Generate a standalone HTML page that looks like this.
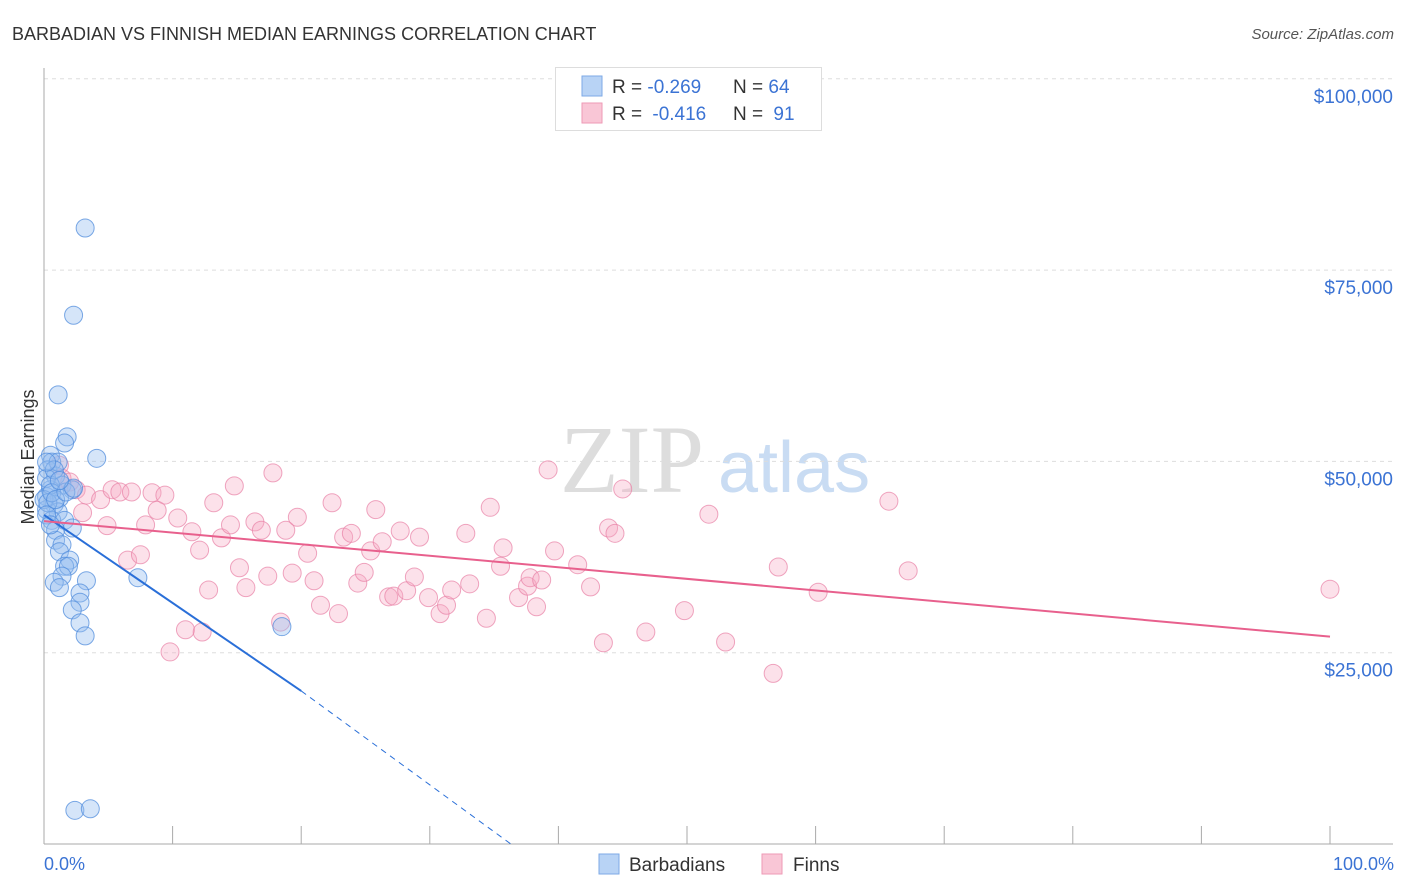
<!DOCTYPE html>
<html><head><meta charset="utf-8"><style>
body{margin:0;background:#fff;font-family:"Liberation Sans",sans-serif;}
svg{display:block}
</style></head><body>
<svg id="chart" width="1406" height="892">
<text x="12" y="40" font-size="18" fill="#333">BARBADIAN VS FINNISH MEDIAN EARNINGS CORRELATION CHART</text>
<text x="1394" y="39" font-size="15" fill="#555" font-style="italic" text-anchor="end">Source: ZipAtlas.com</text>
<text x="560" y="492" font-size="96" fill="#ddd" font-family="Liberation Serif">ZIP</text>
<text x="718" y="492" font-size="72" fill="#c9dcf3">atlas</text>
<g id="grid"></g><g id="axes"></g><g id="pts"></g><g id="lines"></g>
<text transform="translate(34,457) rotate(-90)" font-size="18" fill="#333" text-anchor="middle">Median Earnings</text>
<text x="44" y="870" font-size="18" fill="#3b73d4">0.0%</text>
<text x="1394" y="870" font-size="18" fill="#3b73d4" text-anchor="end">100.0%</text>
<g>
<rect x="555.5" y="67.5" width="266" height="63" fill="#fff" stroke="#ddd"/>
<rect x="582" y="76" width="20" height="20" fill="#b8d3f5" stroke="#7eaae6"/>
<rect x="582" y="103" width="20" height="20" fill="#f9c6d6" stroke="#ee9ab6"/>
<text x="612" y="93" font-size="19" fill="#333">R = <tspan fill="#3b73d4">-0.269</tspan><tspan x="733">N = </tspan><tspan fill="#3b73d4">64</tspan></text>
<text x="612" y="120" font-size="19" fill="#333">R = <tspan fill="#3b73d4" dx="5">-0.416</tspan><tspan x="733">N = </tspan><tspan fill="#3b73d4" dx="5">91</tspan></text>
</g>
<g>
<rect x="599" y="854" width="20" height="20" fill="#b8d3f5" stroke="#7eaae6"/>
<text x="629" y="871" font-size="19" fill="#333">Barbadians</text>
<rect x="762" y="854" width="20" height="20" fill="#f9c6d6" stroke="#ee9ab6"/>
<text x="793" y="871" font-size="19" fill="#333">Finns</text>
</g>
</svg>
<script>
const yTicks=[25000,50000,75000,100000];
const yTickLabels=["$25,000","$50,000","$75,000","$100,000"];
const xTicks=[0,10,20,30,40,50,60,70,80,90,100];
const barbX=[3.2,2.3,1.1,1.8,1.6,4.1,0.5,0.6,0.3,0.9,1.4,2.2,0.5,0.2,1.2,0.8,0.2,1.1,0.6,1.6,2.2,0.9,0.9,1.4,1.2,2.0,1.6,1.9,1.4,3.3,0.8,1.2,7.3,2.8,2.8,2.2,2.8,3.2,18.5,2.4,3.6,0.2,0.5,0,0.3,0.6,0.2,0.5,0.9,1.7,2.3,1.1,0.8,0.2,1.2];
const barbY=[80.5,69.1,58.7,53.2,52.4,50.4,50.8,49.9,48.9,48.1,46.9,46.3,46.3,45.4,45.2,44.4,43.7,43.4,42.3,42.3,41.3,41.0,39.7,39.1,38.2,37.1,36.3,36.3,35.0,34.4,34.2,33.5,34.8,32.8,31.6,30.6,28.9,27.2,28.4,4.4,4.6,47.8,46.9,45,44.6,45.9,43.0,41.7,45.0,46.0,46.5,49.9,48.9,49.9,47.5];
const finnX=[1.2,1.4,2.0,2.5,3.3,4.4,5.3,5.9,6.8,8.4,9.4,3.0,4.9,6.5,7.5,7.9,8.8,9.8,10.4,11.0,11.5,12.1,12.3,12.8,13.2,13.8,14.5,14.8,15.2,15.7,16.4,16.9,17.4,17.8,18.4,18.8,19.3,19.7,20.5,21.0,21.5,22.4,22.9,23.3,23.9,24.4,24.9,25.4,25.8,26.3,26.8,27.2,27.7,28.2,28.8,29.2,29.9,30.8,31.3,31.7,32.8,33.1,34.4,34.7,35.5,35.7,36.9,37.6,37.8,38.3,38.7,39.2,39.7,41.5,42.5,43.5,43.9,44.4,45.0,46.8,49.8,51.7,53.0,56.7,57.1,60.2,65.7,67.2,100];
const finnY=[49.5,47.8,47.3,46.3,45.6,45.0,46.3,46.0,46.0,45.9,45.6,43.3,41.6,37.1,37.8,41.7,43.6,25.1,42.6,28.0,40.8,38.4,27.7,33.2,44.6,40.0,41.7,46.8,36.1,33.5,42.1,41.0,35.0,48.5,29.0,41.0,35.4,42.7,38.0,34.4,31.2,44.6,30.1,40.1,40.6,34.1,35.5,38.3,43.7,39.5,32.3,32.4,40.9,33.1,34.9,40.1,32.2,30.1,31.2,33.2,40.6,34.0,29.5,44.0,36.3,38.7,32.2,33.7,34.8,31.0,34.5,48.9,38.3,36.5,33.6,26.3,41.3,40.6,46.4,27.7,30.5,43.1,26.4,22.3,36.2,32.9,44.8,35.7,33.3];
const barbTrend=[[0,43.0],[20,20.0],[36.3,0]];
const finnTrend=[[0,42.2],[100,27.1]];
const NS="http://www.w3.org/2000/svg";
const sx=v=>44+v*12.86;
const sy=v=>844-v/25000*191.3;
const syk=v=>sy(v*1000);
function mk(tag,attrs,parent){const e=document.createElementNS(NS,tag);for(const k in attrs)e.setAttribute(k,attrs[k]);parent.appendChild(e);return e;}
const grid=document.getElementById('grid'),axes=document.getElementById('axes'),pts=document.getElementById('pts'),lines=document.getElementById('lines');
yTicks.forEach((t,i)=>{
 const l=mk('line',{x1:44,x2:1393,y1:sy(t),y2:sy(t),stroke:'#ddd','stroke-dasharray':'4,4'},grid);
 
 
 const tx=mk('text',{x:1393,y:sy(t)+24,'font-size':19,fill:'#3b73d4','text-anchor':'end'},axes);
 tx.textContent=yTickLabels[i];
 
 
});
const ya=mk('line',{x1:44,x2:44,y1:68,y2:844,stroke:'#aaa'},axes);


const xa=mk('line',{x1:44,x2:1393,y1:844,y2:844,stroke:'#aaa'},axes);


xTicks.forEach(t=>{
 const l=mk('line',{x1:sx(t),x2:sx(t),y1:826,y2:844,stroke:'#aaa'},axes);
 
 
});
finnX.forEach((x,i)=>{
 const c=mk('circle',{cx:sx(x),cy:syk(finnY[i]),r:9,fill:'rgba(246,170,196,0.35)',stroke:'rgba(232,128,165,0.7)','stroke-width':1},pts);
 
 
});
barbX.forEach((x,i)=>{
 const c=mk('circle',{cx:sx(x),cy:syk(barbY[i]),r:9,fill:'rgba(150,190,240,0.4)',stroke:'rgba(80,140,220,0.75)','stroke-width':1},pts);
 
 
});
const b1=mk('line',{x1:sx(barbTrend[0][0]),y1:syk(barbTrend[0][1]),x2:sx(barbTrend[1][0]),y2:syk(barbTrend[1][1]),stroke:'#2a6fd8','stroke-width':2},lines);


const b2=mk('line',{x1:sx(barbTrend[1][0]),y1:syk(barbTrend[1][1]),x2:sx(barbTrend[2][0]),y2:syk(barbTrend[2][1]),stroke:'#2a6fd8','stroke-width':1,'stroke-dasharray':'6,5'},lines);


const f1=mk('line',{x1:sx(finnTrend[0][0]),y1:syk(finnTrend[0][1]),x2:sx(finnTrend[1][0]),y2:syk(finnTrend[1][1]),stroke:'#e8608d','stroke-width':2},lines);


</script>
</body></html>
